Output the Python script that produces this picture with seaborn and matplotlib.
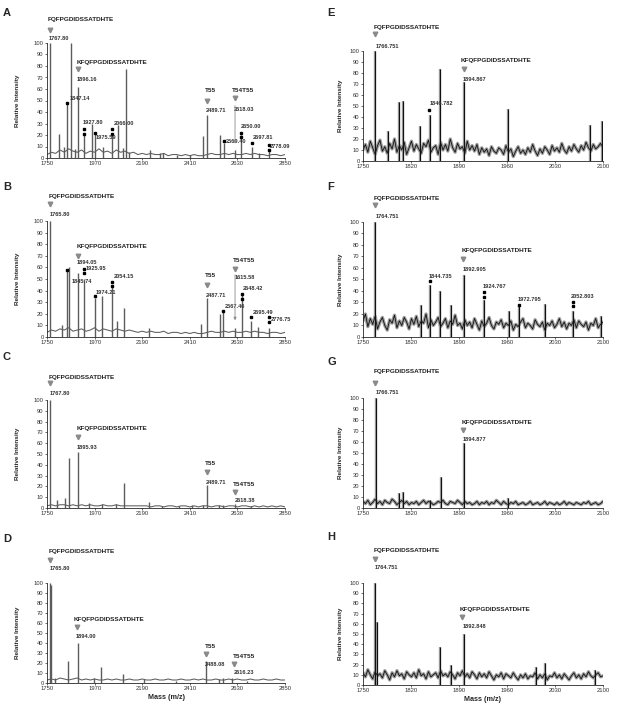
import numpy as np
import pandas as pd
import matplotlib
matplotlib.use("Agg")
import matplotlib.pyplot as plt
import seaborn as sns

sns.set_style("ticks")
plt.rcParams['font.family'] = ['Liberation Sans', 'DejaVu Sans']

# ---------------- data ----------------
# left column (A-D): 1750-2850, right column (E-H): 1750-2100
a_peak_mz = [1764, 1804, 1827, 1842, 1859, 1878, 1893, 1921, 1958, 1972, 2011, 2051, 2079, 2101, 2115, 2127,
             2227, 2273, 2288, 2350, 2411, 2470, 2490, 2550, 2568, 2619, 2645, 2697, 2731, 2776]
a_peak_int = [100, 21, 10, 47, 100, 8, 62, 22, 30, 21, 10, 22, 29, 9, 77, 5,
              7, 4, 4, 3, 3, 19, 37, 20, 13, 7, 20, 10, 4, 7]
a_base = [3, 5, 4, 7, 5, 8, 6, 5, 7, 4, 6, 5, 8, 5, 6, 4, 7, 5, 6, 4,
          5, 3, 4, 3, 4, 3, 3, 4, 2, 3, 3, 2, 3, 2, 3, 2, 2, 3, 4, 3,
          3, 4, 3, 4, 3, 3, 4, 3, 4, 3, 3, 2, 3, 3, 2, 3]

b_peak_mz = [1765, 1819, 1841, 1850, 1891, 1921, 1972, 2005, 2052, 2072, 2105, 2221,
             2464, 2489, 2548, 2565, 2619, 2650, 2694, 2727, 2775]
b_peak_int = [100, 10, 57, 60, 55, 50, 34, 35, 44, 14, 25, 8,
              11, 34, 20, 22, 8, 36, 14, 9, 8]
b_base = [4, 6, 5, 7, 6, 8, 5, 6, 7, 5, 6, 8, 5, 7, 6, 5, 7, 6, 5, 6,
          5, 4, 5, 4, 5, 4, 4, 5, 3, 4, 4, 3, 4, 3, 4, 3, 3, 4, 5, 4,
          4, 5, 4, 5, 4, 4, 5, 4, 5, 4, 4, 3, 4, 4, 3, 4]

c_peak_mz = [1764, 1796, 1835, 1850, 1893, 1946, 2005, 2071, 2105, 2221, 2282, 2359, 2421,
             2470, 2489, 2545, 2565, 2618, 2694]
c_peak_int = [100, 7, 9, 46, 52, 5, 4, 4, 23, 6, 2, 2, 3,
              3, 21, 3, 3, 4, 2]
c_base = [2, 3, 2, 3, 3, 2, 3, 2, 3, 2, 3, 2, 2, 3, 2, 2, 3, 2, 2, 2,
          2, 2, 2, 2, 1, 2, 2, 1, 2, 2, 1, 2, 2, 1, 2, 1, 2, 2, 1, 2,
          2, 1, 2, 2, 1, 2, 2, 1, 2, 1, 2, 1, 2, 1, 2, 1]

d_peak_mz = [1763, 1767, 1785, 1847, 1891, 1966, 2001, 2100, 2197, 2344, 2486, 2545, 2563, 2606, 2676]
d_peak_int = [100, 98, 5, 22, 40, 5, 16, 9, 4, 2, 22, 4, 5, 5, 2]
d_base = [3, 4, 3, 5, 4, 3, 4, 5, 3, 4, 3, 4, 3, 3, 4, 3, 4, 3, 3, 4,
          3, 3, 4, 3, 3, 4, 3, 3, 4, 3, 3, 4, 3, 3, 4, 3, 4, 3, 3, 4,
          3, 3, 4, 3, 4, 3, 3, 4, 3, 3, 4, 3, 3, 4, 3, 3]

e_peak_mz = [1768, 1786, 1802, 1809, 1833, 1847, 1863, 1897, 1961, 2081, 2099]
e_peak_int = [100, 27, 54, 55, 32, 42, 84, 72, 47, 33, 36]
e_base = [10, 15, 8, 18, 12, 6, 14, 19, 9, 13, 7, 16, 11, 20, 8, 14, 10, 17, 6, 12,
          18, 9, 15, 11, 7, 16, 13, 19, 8, 12, 14, 6, 17, 10, 15, 9, 20, 12, 8, 16,
          11, 13, 7, 18, 10, 14, 9, 15, 6, 12, 8, 11, 5, 13, 9, 7, 12, 10, 6, 14,
          8, 11, 4, 9, 13, 7, 10, 6, 12, 8, 15, 9, 5, 11, 7, 13, 10, 6, 14, 9,
          12, 8, 16, 10, 7, 13, 9, 15, 11, 8, 14, 10, 17, 12, 9, 15, 11, 13, 16, 12]

f_peak_mz = [1768, 1835, 1848, 1863, 1879, 1897, 1927, 1963, 1977, 2015, 2056, 2097]
f_peak_int = [100, 28, 45, 40, 28, 54, 32, 23, 27, 29, 23, 18]
f_base = [14, 20, 9, 16, 11, 18, 7, 13, 17, 10, 6, 15, 12, 19, 8, 14, 10, 17, 13, 7,
          16, 11, 18, 9, 14, 12, 20, 8, 15, 10, 13, 17, 9, 12, 16, 8, 14, 11, 19, 10,
          12, 7, 15, 10, 13, 8, 16, 11, 6, 14, 9, 12, 17, 10, 7, 13, 11, 15, 8, 12,
          10, 14, 6, 11, 9, 13, 16, 8, 12, 10, 7, 15, 11, 9, 13, 6, 12, 10, 14, 8,
          11, 16, 9, 13, 7, 12, 10, 15, 8, 14, 11, 9, 13, 6, 12, 10, 16, 8, 11, 13]

g_peak_mz = [1769, 1802, 1809, 1848, 1864, 1897, 1961]
g_peak_int = [100, 14, 15, 7, 28, 59, 9]
g_base = [6, 4, 7, 3, 5, 8, 4, 6, 3, 7, 5, 4, 8, 6, 3, 5, 7, 4, 6, 3,
          5, 4, 6, 3, 5, 7, 4, 6, 5, 3, 4, 6, 5, 7, 4, 3, 6, 5, 4, 7,
          5, 3, 6, 4, 5, 3, 4, 6, 3, 5, 4, 6, 3, 5, 4, 7, 5, 3, 6, 4,
          3, 5, 4, 6, 3, 4, 5, 3, 4, 6, 3, 4, 5, 3, 4, 6, 3, 5, 4, 3,
          5, 3, 4, 6, 3, 5, 4, 3, 5, 4, 3, 5, 4, 6, 3, 4, 5, 3, 4, 6]

h_peak_mz = [1768, 1770, 1863, 1879, 1897, 2003, 2015, 2088]
h_peak_int = [100, 62, 37, 20, 50, 18, 22, 15]
h_base = [12, 8, 15, 10, 6, 13, 9, 11, 7, 14, 10, 5, 12, 8, 14, 9, 11, 6, 13, 10,
          8, 12, 7, 15, 9, 11, 6, 13, 8, 10, 12, 7, 14, 9, 11, 8, 13, 10, 6, 12,
          9, 14, 8, 11, 7, 13, 10, 6, 12, 8, 11, 7, 13, 9, 5, 10, 8, 12, 6, 11,
          9, 7, 12, 8, 5, 10, 7, 11, 6, 9, 8, 12, 6, 10, 7, 11, 5, 9, 8, 12,
          7, 10, 6, 11, 8, 5, 9, 12, 7, 10, 6, 11, 8, 13, 9, 7, 10, 12, 8, 9]

left_ticks = [1750, 1970, 2190, 2410, 2630, 2850]
right_ticks = [1750, 1820, 1890, 1960, 2030, 2100]

FQ = "FQFPGDIDSSATDHTE"
KFQ = "KFQFPGDIDSSATDHTE"

# ---------------- layout: axes boxes in pixels (left, top, right, bottom) ----------------
W, H = 618, 709
panels = {
    "A": dict(box=(47, 43, 285, 158), peaks=(a_peak_mz, a_peak_int), base=a_base, side="L",
              names=[(FQ, 1755, 120), (KFQ, 1889, 83), ("T55", 2480, 59), ("T54T55", 2605, 59)],
              tris=[(1764, 111), (1893, 77), (2490, 50), (2619, 52)],
              labels=[("1767.80", 1759, 104), ("1896.16", 1889, 68), ("1847.14", 1856, 52), ("1927.80", 1916, 31),
                      ("1975.59", 1976, 18), ("2066.00", 2058, 30), ("2489.71", 2485, 41), ("2618.03", 2614, 42),
                      ("2569.40", 2577, 14), ("2650.00", 2647, 27), ("2697.81", 2702, 18), ("2778.09", 2781, 10)],
              dots=[(1842, 48), (1921, 25), (1921, 21), (1972, 22), (2051, 25), (2051, 21), (2568, 15),
                    (2645, 22), (2645, 18), (2697, 13), (2776, 11), (2776, 7)],
              arrow=(2619, 48, 10)),
    "B": dict(box=(47, 221, 285, 337), peaks=(b_peak_mz, b_peak_int), base=b_base, side="L",
              names=[(FQ, 1759, 121), (KFQ, 1889, 78), ("T55", 2480, 53), ("T54T55", 2610, 66)],
              tris=[(1762, 115), (1891, 70), (2491, 45), (2619, 59)],
              labels=[("1765.80", 1764, 106), ("1894.05", 1889, 64), ("1925.95", 1930, 59), ("1845.74", 1866, 48),
                      ("1974.21", 1976, 38), ("2054.15", 2060, 52), ("2487.71", 2484, 36), ("1615.58", 2619, 51),
                      ("2648.42", 2653, 42), ("2567.46", 2572, 26), ("2695.49", 2699, 21), ("2776.75", 2784, 15)],
              dots=[(1841, 58), (1921, 59), (1921, 55), (1972, 35), (2052, 47), (2052, 44), (2565, 22),
                    (2650, 37), (2650, 33), (2694, 17), (2775, 17), (2775, 13)],
              arrow=(2619, 56, 12)),
    "C": dict(box=(47, 400, 285, 508), peaks=(c_peak_mz, c_peak_int), base=c_base, side="L",
              names=[(FQ, 1759, 121), (KFQ, 1889, 74), ("T55", 2480, 41), ("T54T55", 2611, 22)],
              tris=[(1762, 116), (1892, 66), (2489, 33), (2618, 15)],
              labels=[("1767.80", 1764, 106), ("1895.93", 1889, 56), ("2489.71", 2483, 24), ("2618.38", 2616, 7)],
              dots=[], arrow=None),
    "D": dict(box=(47, 583, 285, 683), peaks=(d_peak_mz, d_peak_int), base=d_base, side="L",
              names=[(FQ, 1759, 131), (KFQ, 1875, 64), ("T55", 2480, 37), ("T54T55", 2611, 26)],
              tris=[(1762, 123), (1887, 56), (2485, 29), (2616, 19)],
              labels=[("1765.80", 1764, 115), ("1894.00", 1884, 46), ("2488.08", 2480, 19), ("2616.23", 2614, 11)],
              dots=[], arrow=None),
    "E": dict(box=(363, 51, 603, 161), peaks=(e_peak_mz, e_peak_int), base=e_base, side="R",
              names=[(FQ, 1766, 121), (KFQ, 1892, 91)],
              tris=[(1768, 115), (1897, 84)],
              labels=[("1766.751", 1768, 104), ("1894.867", 1896, 74), ("1846.782", 1848, 52)],
              dots=[(1846, 46)], arrow=None),
    "F": dict(box=(363, 222, 603, 337), peaks=(f_peak_mz, f_peak_int), base=f_base, side="R",
              names=[(FQ, 1766, 120), (KFQ, 1894, 75)],
              tris=[(1768, 115), (1896, 68)],
              labels=[("1764.751", 1768, 105), ("1892.905", 1896, 59), ("1844.735", 1846, 53),
                      ("1924.767", 1924, 44), ("1972.795", 1975, 33), ("2052.803", 2053, 35)],
              dots=[(1847, 49), (1927, 39), (1927, 35), (1977, 28), (2056, 30), (2056, 27)], arrow=None),
    "G": dict(box=(363, 398, 603, 508), peaks=(g_peak_mz, g_peak_int), base=g_base, side="R",
              names=[(FQ, 1766, 124), (KFQ, 1894, 78)],
              tris=[(1768, 114), (1896, 71)],
              labels=[("1766.751", 1768, 105), ("1894.877", 1896, 62)],
              dots=[], arrow=None),
    "H": dict(box=(363, 583, 603, 685), peaks=(h_peak_mz, h_peak_int), base=h_base, side="R",
              names=[(FQ, 1765, 132), (KFQ, 1891, 74)],
              tris=[(1768, 124), (1895, 67)],
              labels=[("1764.751", 1767, 115), ("1892.848", 1895, 57)],
              dots=[], arrow=None),
}
letter_pos = {"A": (3, 13), "B": (3, 187), "C": (3, 357), "D": (3, 539),
              "E": (327, 13), "F": (327, 187), "G": (327, 362), "H": (327, 537)}

fig = plt.figure(figsize=(W / 100, H / 100), dpi=100)

for key, p in panels.items():
    l, t, r, b = p["box"]
    ax = fig.add_axes([l / W, 1 - b / H, (r - l) / W, (b - t) / H])
    if p["side"] == "L":
        lo, hi, ticks = 1750, 2850, left_ticks
    else:
        lo, hi, ticks = 1750, 2100, right_ticks
    mz_grid = np.linspace(lo, hi, len(p["base"]))
    pk_mz, pk_int = p["peaks"]
    if p["side"] == "L":
        sns.lineplot(x=mz_grid, y=p["base"], ax=ax, color="#5c5c5c", lw=0.75)
        ax.vlines(pk_mz, 0, pk_int, color="#5c5c5c", lw=1.0)
    else:
        # grey envelope under a thin black trace
        sns.lineplot(x=mz_grid, y=p["base"], ax=ax, color="#9c9c9c", lw=2.4)
        ax.vlines(pk_mz, 0, pk_int, color="#9c9c9c", lw=1.7)
        sns.lineplot(x=mz_grid, y=p["base"], ax=ax, color="#111111", lw=0.6)
        ax.vlines(pk_mz, 0, pk_int, color="#111111", lw=0.8)

    ax.set_xlim(lo, hi)
    ax.set_ylim(0, 100)
    ax.set_xticks(ticks)
    ax.set_yticks(range(0, 101, 10))
    ax.tick_params(labelsize=4.2, length=1.5, width=0.5, pad=1, colors="#333333")
    for s in ["left", "bottom"]:
        ax.spines[s].set_linewidth(0.6)
    sns.despine(ax=ax)
    ax.set_ylabel("Relative Intensity", fontsize=4.6, fontweight="bold")
    ax.yaxis.set_label_coords(-0.113 if p["side"] == "L" else -0.083, 0.5)
    if key in ("D", "H"):
        ax.set_xlabel("Mass (m/z)", fontsize=5.2, fontweight="bold", labelpad=2)
    else:
        ax.set_xlabel("")

    for txt, x, y in p["names"]:
        ax.text(x, y, txt, fontsize=4.6, fontweight="bold", ha="left", va="center",
                color="#222222", clip_on=False)
    for txt, x, y in p["labels"]:
        ax.text(x, y, txt, fontsize=4.1, fontweight="bold", ha="left", va="center",
                color="#333333", clip_on=False)
    for x, y in p["tris"]:
        ax.plot(x, y, marker="v", ms=3.3, color="#8a8a8a", clip_on=False, lw=0)
    if p["dots"]:
        dx, dy = zip(*p["dots"])
        ax.plot(dx, dy, "s", ms=1.6, color="black", clip_on=False, lw=0)
    if p["arrow"]:
        ax_x, y1, y2 = p["arrow"]
        ax.annotate("", xy=(ax_x, y2), xytext=(ax_x, y1),
                    arrowprops=dict(arrowstyle="-|>", color="#8a8a8a", lw=0.6, mutation_scale=4))

    lx, ly = letter_pos[key]
    fig.text(lx / W, 1 - ly / H, key, fontsize=8, fontweight="bold", ha="left", va="center")

fig.savefig("out.png", dpi=100)
